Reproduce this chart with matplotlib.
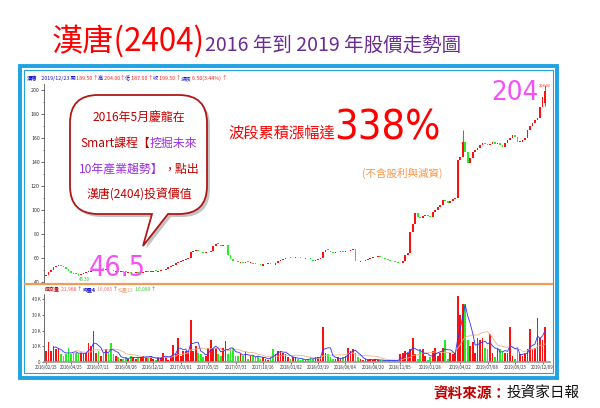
import numpy as np
import pandas as pd
import matplotlib
matplotlib.use('Agg')
import matplotlib.pyplot as plt
import matplotlib.dates as mdates
from matplotlib import font_manager
from matplotlib.path import Path
from matplotlib.patches import PathPatch, Rectangle

plt.rcParams['font.family'] = ['Noto Sans CJK TC', 'DejaVu Sans']

# weekly closes, 2016/02/15 .. 2019/12/23
close = [46, 48, 50, 52, 53, 54, 53, 52, 51, 49, 47.5,
         46.5, 46, 45.5, 46.5, 47, 48, 48.5, 49, 49.5, 50,
         49.5, 50.5, 50, 50, 49.5, 49, 48.5, 48.5, 48, 48.5,
         48, 47.5, 47.5, 47, 47.5, 47.5, 47, 47.5, 48, 48.5,
         48, 48.5, 49, 48.5, 49, 49.5, 50, 51, 52.5, 53,
         54, 55.5, 56.5, 57.5, 58, 59, 60, 65, 66, 66.5,
         65.5, 65, 64, 64.5, 65, 65.5, 69.5, 71.5, 71, 70,
         70.5, 71, 62.5, 59, 57, 56.5, 56, 56, 55.5, 56.5,
         56, 56, 55, 54.5, 54, 53.5, 54.5, 55, 55, 54.5,
         54, 55.5, 57, 58, 59, 59.5, 60, 59.5, 60, 60.5,
         60, 59.5, 59, 59.5, 59, 58.5, 57.5, 58, 59, 60,
         65, 66.5, 66, 65, 64, 64.5, 65, 65, 64.5, 65.5,
         66, 66.5, 67.5, 57, 56.5, 57, 57.5, 58.5, 59, 60,
         60.5, 61, 61, 60.5, 60, 59, 58, 57, 56.5, 56,
         55.5, 56, 57, 62.5, 64, 81.5, 88, 97.5, 94, 93,
         95, 96, 95, 94, 98, 100, 102.5, 104, 108, 107,
         106, 107.5, 109, 110, 141.5, 144, 156.5, 148, 139, 143,
         148, 150, 151.5, 154, 156, 155, 154, 155, 156.5, 155,
         156, 154, 152.5, 156, 158, 160, 162.5, 161, 156.5, 157,
         158, 160, 166.5, 170, 172.5, 175, 177, 186, 194, 199.5]

# weekly volume, thousand lots
volume = [7, 13, 7, 10, 8, 9, 5, 4, 5, 9,
          5, 6, 6, 5, 6, 5, 6, 12, 10, 19.5,
          6, 7, 4, 6, 8, 6, 12, 5, 4, 3,
          2, 2, 3, 2, 4, 3, 2, 3, 3, 4,
          3, 3, 4, 2, 1, 3, 3, 6, 3, 1,
          4, 11, 5, 15, 4, 7, 7, 6, 27, 7,
          10, 6, 5, 3, 4, 9, 14, 8, 9, 5,
          4, 9, 13.5, 5, 8, 9, 4, 4, 5, 4,
          7, 2, 4, 4, 3, 4, 2, 3, 2, 1,
          3, 8, 5, 7, 7, 6, 5, 3, 2, 3,
          3, 2, 1, 2, 1, 2, 3, 2, 3, 3,
          3, 22, 6, 5, 3, 2, 2, 3, 2, 3,
          4, 9, 7, 8, 6, 3, 2, 1, 2, 1,
          2, 1, 2, 1, 1, 1, 1, 1, 1, 1,
          1, 0.5, 5, 6, 7, 6, 8, 15, 5, 2,
          8, 8, 4, 1, 3, 7, 9, 4, 6, 9,
          14, 2, 6, 5, 6, 42, 30, 37, 37, 14,
          10, 13, 6, 15, 14, 15, 9, 8, 18, 6,
          3, 8, 8, 7, 6, 6, 22, 4, 2, 8,
          5, 4, 5, 8, 21, 8, 9, 28, 15, 14, 22]

first_open = 45.0
last_open = 189.5
# (week index, high, low) for the wicks that show
spikes = [(13, 47.0, 45.3), (167, 167.0, 146.0), (200, 204.0, 187.0)]

tick_dates = ['2016/02/15', '2016/04/25', '2016/07/11', '2016/09/26', '2016/12/12',
              '2017/03/01', '2017/05/15', '2017/07/31', '2017/10/16', '2018/01/02',
              '2018/03/19', '2018/06/04', '2018/08/20', '2018/11/05', '2019/01/28',
              '2019/04/22', '2019/07/08', '2019/09/23', '2019/12/09']

RED = '#FF1010'
GREEN = '#22EE22'
DARKRED = '#C00000'
PURPLE = '#6A2C91'
VIOLET = '#9B30E0'
MAGENTA = '#F552F5'
BLUE_FRAME = '#1FA3E3'

close = np.array(close, dtype=float)
volume = np.array(volume, dtype=float)
opens = np.concatenate([[first_open], close[:-1]])
opens[-1] = last_open
dates = pd.date_range('2016-02-15', periods=len(close), freq='7D')
up = close >= opens
colors = np.where(up, RED, GREEN)

fig = plt.figure(figsize=(6, 4.08), dpi=100)
W, H = 600, 408


def box(left, top, right, bottom):
    return [left / W, 1 - bottom / H, (right - left) / W, (bottom - top) / H]


d0 = mdates.date2num(dates[0])
xlim = (d0 - 5.6, d0 + 1414)

# price panel
ax_p = fig.add_axes(box(44, 84, 550, 283))
body = close - opens
body = np.where(np.abs(body) < 0.6, 0.6, body)
ax_p.bar(dates, body, bottom=opens, width=4.8, color=colors, linewidth=0)
for i, hi, lo in spikes:
    ax_p.vlines(dates[i], lo, hi, color=colors[i], lw=0.6)
ax_p.set_xlim(xlim)
ax_p.set_ylim(39, 205)
ax_p.set_yticks(range(40, 201, 20))
ax_p.set_yticks(range(40, 201, 10), minor=True)
ax_p.tick_params(axis='y', labelsize=3.8, length=2, width=0.5, pad=1, colors='#333333')
ax_p.tick_params(axis='y', which='minor', length=1, width=0.4)
ax_p.set_xticks([])
for s in ['top', 'right', 'bottom']:
    ax_p.spines[s].set_visible(False)
ax_p.spines['left'].set_linewidth(0.6)
ax_p.spines['left'].set_color('#555555')

# volume panel
ax_v = fig.add_axes(box(44, 294, 550, 362))
ax_v.bar(dates, volume, width=4.8, color=colors, linewidth=0)
vs = pd.Series(volume, index=dates)
ax_v.plot(dates, vs.rolling(13).mean(), color='#F4B183', lw=0.6)
ax_v.plot(dates, vs.rolling(4).mean(), color='#3030FF', lw=0.6)
ax_v.set_xlim(xlim)
ax_v.set_ylim(0, 43.2)
ax_v.set_yticks([0, 10, 20, 30, 40])
ax_v.set_yticklabels(['0', '10 K', '20 K', '30 K', '40 K'])
ax_v.set_xticks(pd.to_datetime(tick_dates))
ax_v.set_xticklabels(tick_dates)
ax_v.tick_params(labelsize=3.1, length=1.5, width=0.5, pad=1, colors='#333333')
for s in ['top', 'right']:
    ax_v.spines[s].set_visible(False)
ax_v.spines['left'].set_linewidth(0.6)
ax_v.spines['left'].set_color('#555555')
ax_v.spines['bottom'].set_color('#999999')
ax_v.spines['bottom'].set_linewidth(1.2)

# overlay in pixel coordinates for frame and annotations
ov = fig.add_axes([0, 0, 1, 1], zorder=10)
ov.set_xlim(0, W)
ov.set_ylim(H, 0)
ov.axis('off')
ov.patch.set_visible(False)

ov.add_patch(Rectangle((19.5, 65.5), 537, 312, fill=False, ec=BLUE_FRAME, lw=2.8))
ov.add_patch(Rectangle((24, 70), 529, 303, fill=False, ec=BLUE_FRAME, lw=0.8))
ov.plot([25, 552], [284, 284], color='#F29B58', lw=1.6)

renderer = fig.canvas.get_renderer()


def multi_text(x, y, parts, ha='left', va='baseline'):
    items = []
    for s, c, size, weight in parts:
        items.append(ov.text(x, y, s, color=c, fontsize=size, fontweight=weight, va=va))
    widths = [t.get_window_extent(renderer).width for t in items]
    x0 = x - sum(widths) / 2 if ha == 'center' else x
    for t, w in zip(items, widths):
        t.set_x(x0)
        x0 += w


def narrow_font():
    files = [f.fname for f in font_manager.fontManager.ttflist]
    for key in ['LiberationSansNarrow-Regular', 'DejaVuSansCondensed.ttf',
                'RobotoCondensed-Regular', 'Roboto_Condensed-Regular']:
        for fn in files:
            if key in fn:
                return font_manager.FontProperties(fname=fn)
    return font_manager.FontProperties(family='Liberation Sans')


def fitted_text(x, y, s, target_w, color, fp):
    t = ov.text(x, y, s, color=color, fontproperties=fp, fontsize=10, va='baseline')
    w = t.get_window_extent(renderer).width
    t.set_fontsize(10 * target_w / w)
    return t


# title
multi_text(52, 51, [('漢唐(2404)', '#FF0000', 22.5, 'normal'),
                    ('2016 年到 2019 年股價走勢圖', PURPLE, 14, 'normal')])

# quote header inside the chart
hb, hr, hs = '#1010D0', '#FF2020', 3.8
multi_text(27, 80, [('漢唐', hb, hs, 'bold'), ('   2019/12/23 開', hb, hs, 'normal'),
                    (' 189.50', hr, hs, 'normal'), ('↑', hr, hs, 'normal'),
                    ('高', hb, hs, 'normal'), (' 204.00', hr, hs, 'normal'), ('↑', hr, hs, 'normal'),
                    ('低', hb, hs, 'normal'), (' 187.00', hr, hs, 'normal'), ('↑', hr, hs, 'normal'),
                    ('收', hb, hs, 'normal'), (' 199.50', hr, hs, 'normal'), ('↑', hr, hs, 'normal'),
                    ('漲跌', hb, hs, 'normal'), (' 6.50(3.44%)', hr, hs, 'normal'),
                    ('↑', hr, hs, 'normal')])
multi_text(45, 291, [('成交量', DARKRED, 3.6, 'bold'), (' 21,968', '#FF5050', 3.6, 'normal'),
                     (' ↑', hr, 3.6, 'normal'), ('均量4', hb, 3.6, 'bold'),
                     (' 16,085', '#F08080', 3.6, 'normal'), (' ↑', hr, 3.6, 'normal'),
                     ('均量13', '#F4A070', 3.6, 'normal'), (' 10,089', '#30D030', 3.6, 'normal'),
                     (' ↑', hr, 3.6, 'normal')])

# speech bubble
L, R, T, B, r = 70, 207, 95, 214, 28
verts = [(L + r, T), (R - r, T), (R, T), (R, T + r), (R, B - r), (R, B), (R - r, B),
         (168, B), (143, 246), (152, B), (L + r, B), (L, B), (L, B - r),
         (L, T + r), (L, T), (L + r, T), (L + r, T)]
codes = [Path.MOVETO, Path.LINETO, Path.CURVE3, Path.CURVE3, Path.LINETO, Path.CURVE3,
         Path.CURVE3, Path.LINETO, Path.LINETO, Path.LINETO, Path.LINETO, Path.CURVE3,
         Path.CURVE3, Path.LINETO, Path.CURVE3, Path.CURVE3, Path.CLOSEPOLY]
bubble = Path(verts, codes)
shadow = Path([(x + 3, y + 3) for x, y in verts], codes)
ov.add_patch(PathPatch(shadow, fc='#AAAAAA', ec='none', alpha=0.7))
ov.add_patch(PathPatch(bubble, fc='white', ec='#B01818', lw=1.3))

bs = 8.6
multi_text(139, 118, [('2016年5月慶龍在', DARKRED, bs, 'normal')], ha='center', va='center')
multi_text(139, 143, [('Smart課程【', DARKRED, bs, 'normal'), ('挖掘未來', VIOLET, bs, 'normal')],
           ha='center', va='center')
multi_text(139, 169, [('10年產業趨勢】', VIOLET, bs, 'normal'), ('，點出', DARKRED, bs, 'normal')],
           ha='center', va='center')
multi_text(139, 195, [('漢唐(2404)投資價值', DARKRED, bs, 'normal')], ha='center', va='center')

# price call-outs
narrow = narrow_font()
fitted_text(89, 276, '46.5', 57, MAGENTA, narrow)
fitted_text(491, 100, '204', 47, MAGENTA, narrow)
fitted_text(334, 140, '338%', 106, '#FF0000', narrow)
ov.text(539, 87, '204.00', color='#FF3030', fontsize=2.8)
ov.text(79, 281, '45.30', color='#20C020', fontsize=3.2)
ov.text(228, 138, '波段累積漲幅達', color='#FF0000', fontsize=11, va='baseline')
ov.text(362, 177, '(不含股利與減資)', color='#F79646', fontsize=7.6, va='baseline')

# source
multi_text(433, 398, [('資料來源：', DARKRED, 10.5, 'bold'), ('投資家日報', '#111111', 10.5, 'normal')])

fig.savefig('out.png', dpi=100)
